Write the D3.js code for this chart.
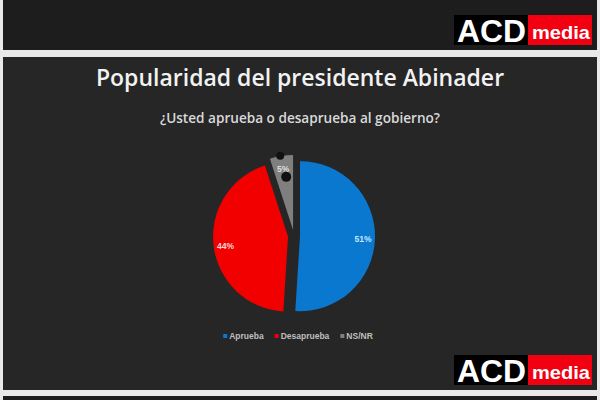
<!DOCTYPE html>
<html lang="es">
<head>
  <meta charset="UTF-8">
  <title>Popularidad del presidente Abinader</title>
  <script src="https://d3js.org/d3.v7.min.js"></script>
  <style>
    html, body { margin: 0; padding: 0; background: #e9e9e9; }
    svg { display: block; }
  </style>
</head>
<body>
  <div class="canvas"></div>
  <script>
    // datos
    const categories = ['Aprueba', 'Desaprueba', 'NS/NR'];
    const values = [51, 44, 5];
    const valueLabels = ['51%', '44%', '5%'];

    const width = 600;
    const height = 400;
    const cx = 294, cy = 236;
    const radius = 75;
    const explode = 6;

    const svg = d3.select('.canvas')
      .append('svg')
      .attr('width', width)
      .attr('height', height)

    // paneles de fondo
    svg.append('rect').attr('x', 0).attr('y', 0).attr('width', width).attr('height', height).attr('fill', '#e9e9e9')
    svg.append('rect').attr('x', 3).attr('y', 0).attr('width', 594).attr('height', 50).attr('fill', '#1d1d1d')
    svg.append('rect').attr('x', 3).attr('y', 57).attr('width', 594).attr('height', 333).attr('fill', '#262626')
    svg.append('rect').attr('x', 3).attr('y', 396).attr('width', 594).attr('height', 4).attr('fill', '#1d1d1d')

    // logo ACD media
    function logo(y) {
      const g = svg.append('g').attr('transform', `translate(454, ${y})`)
      g.append('rect').attr('width', 74).attr('height', 30).attr('fill', '#000')
      g.append('rect').attr('x', 74).attr('width', 64).attr('height', 30).attr('fill', '#f20012')
      g.append('text')
        .attr('x', 3).attr('y', 27)
        .attr('textLength', 69).attr('lengthAdjust', 'spacingAndGlyphs')
        .style('font-family', '"Liberation Sans", Arial, sans-serif')
        .style('font-weight', 'bold').style('font-size', '31px')
        .attr('fill', '#fff').text('ACD')
      g.append('text')
        .attr('x', 78).attr('y', 23.5)
        .attr('textLength', 58).attr('lengthAdjust', 'spacingAndGlyphs')
        .style('font-family', '"Liberation Sans", Arial, sans-serif')
        .style('font-weight', 'bold').style('font-size', '19px')
        .attr('fill', '#fff').text('media')
    }
    logo(15)
    logo(355)

    // titulos
    svg.append('text')
      .attr('x', 300).attr('y', 86)
      .attr('text-anchor', 'middle')
      .style('font-family', '"Open Sans", sans-serif')
      .style('font-weight', 600).style('font-size', '23px')
      .attr('fill', '#f2f2f2')
      .text('Popularidad del presidente Abinader')

    svg.append('text')
      .attr('x', 300).attr('y', 123)
      .attr('text-anchor', 'middle')
      .style('font-family', '"Open Sans", sans-serif')
      .style('font-weight', 600).style('font-size', '13.6px')
      .attr('fill', '#d9d9d9')
      .text('¿Usted aprueba o desaprueba al gobierno?')

    // pastel
    const color = d3.scaleOrdinal()
      .domain(categories)
      .range(['#0b78d0', '#f20000', '#7f7f7f'])

    const labelColor = d3.scaleOrdinal()
      .domain(categories)
      .range(['#bfe9ff', '#ffd6d6', '#dedede'])

    const pie = d3.pie().sort(null).value(d => d.value)
    const data = categories.map((c, i) => ({ cat: c, value: values[i], label: valueLabels[i] }))
    const arcs = pie(data)

    const arc = d3.arc().innerRadius(0).outerRadius(radius)
    const labelArc = d3.arc().innerRadius(radius * 0.84).outerRadius(radius * 0.84)
    const pushArc = d3.arc().innerRadius(explode).outerRadius(explode)

    const graph = svg.append('g').attr('transform', `translate(${cx}, ${cy})`)

    const slices = graph.selectAll('g.slice').data(arcs)
      .enter()
      .append('g')
      .attr('class', 'slice')
      .attr('transform', d => {
        const [dx, dy] = pushArc.centroid(d)
        return `translate(${dx}, ${dy})`
      })

    slices.append('path')
      .attr('d', arc)
      .attr('fill', d => color(d.data.cat))

    slices.append('text')
      .attr('transform', d => `translate(${labelArc.centroid(d)})`)
      .attr('text-anchor', 'middle')
      .attr('dy', '0.5em')
      .style('font-family', '"Liberation Sans", Arial, sans-serif')
      .style('font-weight', 'bold').style('font-size', '8.5px')
      .attr('fill', d => labelColor(d.data.cat))
      .text(d => d.data.label)

    // puntos negros sobre la etiqueta pequeña
    const small = slices.filter(d => d.data.cat === 'NS/NR')
    const [lx, ly] = labelArc.centroid(arcs[2])
    small.append('circle').attr('cx', lx - 3).attr('cy', ly - 12).attr('r', 4).attr('fill', '#111')
    small.append('circle').attr('cx', lx + 3).attr('cy', ly + 9).attr('r', 5).attr('fill', '#111')

    // leyenda
    const legend = svg.append('g')
    let lxPos = 0
    categories.forEach((c, i) => {
      const item = legend.append('g').attr('transform', `translate(${lxPos}, 0)`)
      item.append('rect').attr('x', 0).attr('y', -5).attr('width', 4).attr('height', 4).attr('fill', color(c))
      const t = item.append('text')
        .attr('x', 6).attr('y', 0)
        .style('font-family', '"Liberation Sans", Arial, sans-serif')
        .style('font-weight', 'bold').style('font-size', '8.5px')
        .attr('fill', '#bfbfbf')
        .text(c)
      lxPos += 6 + t.node().getComputedTextLength() + 11
    })
    const legendWidth = lxPos - 11
    legend.attr('transform', `translate(${298 - legendWidth / 2}, 339)`)
  </script>
</body>
</html>
